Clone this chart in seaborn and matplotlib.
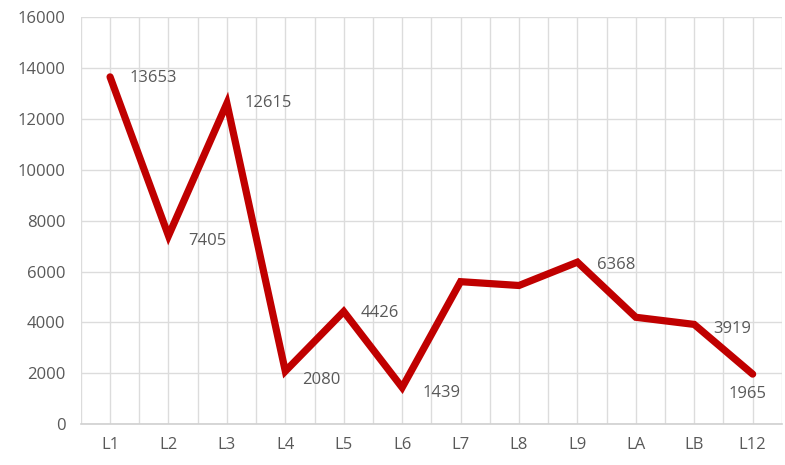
import matplotlib
matplotlib.use("Agg")
import matplotlib.pyplot as plt
import seaborn as sns
import pandas as pd
from matplotlib.ticker import MultipleLocator

categories = ["L1", "L2", "L3", "L4", "L5", "L6", "L7", "L8", "L9", "LA", "LB", "L12"]
values = [13653, 7405, 12615, 2080, 4426, 1439, 5600, 5450, 6368, 4200, 3919, 1965]
labelled = [True, True, True, True, True, True, False, False, True, False, True, True]
# label offsets in points (dx, dy) relative to each point
offsets = [(14, -1), (14, -4), (13, 0), (12, -6), (12, -1), (15, -4),
           (0, 0), (0, 0), (14, -2), (0, 0), (14, -3), (-4, -14)]
aligns = ["left"] * 11 + ["center"]

df = pd.DataFrame({"cat": categories, "val": values})

sns.set_style("white")
plt.rcParams["font.family"] = ["Open Sans", "DejaVu Sans"]

fig = plt.figure(figsize=(7.85, 4.65), dpi=100)
ax = fig.add_axes([0.103, 0.088, 0.893, 0.875])

sns.lineplot(data=df, x="cat", y="val", ax=ax, color="#C00000",
             linewidth=5.2, sort=False, solid_joinstyle="miter")

ax.set_xlim(-0.5, len(categories) - 0.5)
ax.set_ylim(0, 16000)
ax.yaxis.set_major_locator(MultipleLocator(2000))
ax.xaxis.set_minor_locator(MultipleLocator(1, offset=0.5))

ax.grid(True, which="major", axis="both", color="#DCDCDC", linewidth=1.0)
ax.grid(True, which="minor", axis="x", color="#DCDCDC", linewidth=1.0)
ax.set_axisbelow(True)

for s in ["top", "right", "left"]:
    ax.spines[s].set_visible(False)
ax.spines["bottom"].set_color("#D0D0D0")
ax.spines["bottom"].set_linewidth(1.2)

ax.tick_params(axis="both", which="both", length=0, labelsize=12,
               colors="#595959", pad=9)
ax.tick_params(axis="y", pad=11)
ax.set_xlabel("")
ax.set_ylabel("")

for i, (v, show) in enumerate(zip(values, labelled)):
    if not show:
        continue
    dx, dy = offsets[i]
    ax.annotate(f"{v}", xy=(i, v), xytext=(dx, dy), textcoords="offset points",
                ha=aligns[i], va="center", fontsize=12, color="#595959")

fig.savefig("out.png", dpi=100)
